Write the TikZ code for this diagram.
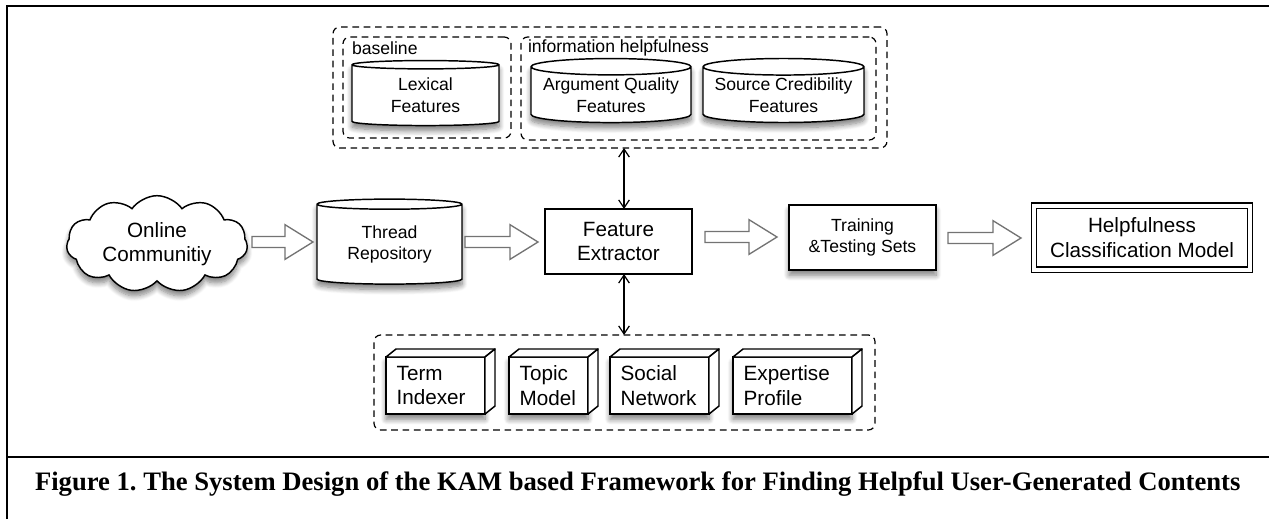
\documentclass[tikz,border=0pt]{standalone}
\usepackage{fontspec}
\setmainfont{Liberation Sans}
\newfontfamily\capfont{Liberation Serif}
\usetikzlibrary{shapes.geometric,shapes.symbols,arrows.meta,calc,shadows.blur}
\newcommand\harrow[5]{%
  \draw[harr] let \p1=(#1.east), \p2=(#2.west), \p3=(0,#3) in
   (\x1+#4*0.75pt, \y3+4.1pt) -- (\x2-#5*0.75pt-21pt, \y3+4.1pt) -- (\x2-#5*0.75pt-21pt, \y3+13pt)
   -- (\x2-#5*0.75pt, \y3) -- (\x2-#5*0.75pt-21pt, \y3-13pt) -- (\x2-#5*0.75pt-21pt, \y3-4.1pt)
   -- (\x1+#4*0.75pt, \y3-4.1pt) -- cycle;}
\begin{document}
\begin{tikzpicture}[x=0.75pt,y=-0.75pt,
  every node/.style={inner sep=0pt, outer sep=0pt},
  big/.style={font=\fontsize{15.5}{18.5}\selectfont},
  small/.style={font=\fontsize{13.2}{16.2}\selectfont},
  sh/.style={blur shadow={shadow xshift=0pt, shadow yshift=-4pt, shadow blur radius=4pt, shadow blur steps=8, shadow opacity=50}},
  box/.style={draw, line width=1.1pt, fill=white, align=center},
  dbox/.style={draw, dash pattern=on 5pt off 3.5pt, line width=0.9pt, rounded corners=5pt},
  cyl/.style={cylinder, shape border rotate=90, draw, line width=1.1pt, fill=white, aspect=0.12, align=center, sh},
  cube/.style={draw, line width=1.1pt, fill=white, align=left, inner xsep=8pt, minimum height=42.75pt, sh},
  face/.style={draw, line width=1.1pt, fill=white, line join=round},
  harr/.style={draw=black!55, line width=1pt, fill=white, line join=miter},
  link/.style={line width=0.9pt, {Straight Barb[length=6pt,width=8pt]}-{Straight Barb[length=6pt,width=8pt]}},
]
\useasboundingbox (0,0) rectangle (1269,519);
% frame
\draw[line width=1.9pt] (7,519) -- (7,6) -- (1269,6);
\draw[line width=1.9pt] (7,457) -- (1269,457);

% top group
\node[dbox, minimum width=415.5pt, minimum height=90.75pt] (topbox) at (610,87.5) {};
\node[dbox, minimum width=126pt, minimum height=75.75pt] (basebox) at (427,87.5) {};
\node[dbox, minimum width=266.25pt, minimum height=77.25pt] (infobox) at (698.5,88.5) {};
\node[small, anchor=west] (baselbl) at (352,48) {baseline};
\node[small, anchor=west] (infolbl) at (528,48) {information helpfulness};
\node[cyl, small, minimum width=110.25pt, minimum height=48.75pt] (lex) at (425.5,95.5) {Lexical\\Features};
\node[cyl, small, minimum width=120pt, minimum height=48pt] (arg) at (611,95) {Argument Quality\\Features};
\node[cyl, small, minimum width=120.75pt, minimum height=48pt] (src) at (783.5,95) {Source Credibility\\Features};

% middle row
\node[cloud, cloud puffs=11, cloud puff arc=110, aspect=2, draw, line width=1.1pt, fill=white, big, align=center,
      minimum width=135.75pt, minimum height=69pt, sh] (cloud) at (157,244) {Online\\Communitiy};
\node[cyl, small, minimum width=108.75pt, minimum height=63.75pt] (thread) at (389.5,244.5) {Thread\\Repository};
\node[box, big, minimum width=110.25pt, minimum height=48.75pt] (feature) at (618.5,241.5) {Feature\\Extractor};
\node[box, small, minimum width=110.25pt, minimum height=48.75pt, sh] (training) at (862.5,237.5) {Training\\\&Testing Sets};
\node[box, big, double, double distance=3pt, minimum width=162pt, minimum height=48pt] (helpful) at (1142,237.5) {Helpfulness\\Classification Model};

\harrow{cloud}{thread}{242}{5}{4}
\harrow{thread}{feature}{242}{3}{7}
\harrow{feature}{training}{237}{13}{12}
\harrow{training}{helpful}{238}{12}{13}

% bottom group
\node[dbox, minimum width=375.75pt, minimum height=71.25pt] (botbox) at (624.5,382.5) {};
\node[cube, big, text width=58.25pt, minimum width=74.25pt] (term) at (435.5,385.5) {Term\\Indexer};
\node[cube, big, text width=43.25pt, minimum width=59.25pt] (topic) at (548.5,385.5) {Topic\\Model};
\node[cube, big, text width=58.25pt, minimum width=74.25pt] (social) at (659.5,385.5) {Social\\Network};
\node[cube, big, text width=73.25pt, minimum width=89.25pt] (expert) at (792.5,385.5) {Expertise\\Profile};
\foreach \n in {term,topic,social,expert}{
  \draw[face] (\n.north west) -- ++(10,-8) -- ($(\n.north east)+(10,-8)$) -- (\n.north east) -- cycle;
  \draw[face] (\n.north east) -- ++(10,-8) -- ($(\n.south east)+(10,-8)$) -- (\n.south east) -- cycle;
}

% vertical links
\coordinate (ax) at (624,0);
\draw[link] (topbox.south -| ax) -- (feature.north -| ax);
\draw[link] (feature.south -| ax) -- (botbox.north -| ax);

% caption
\node[anchor=base west] (cap) at (35,490) {\resizebox{904pt}{!}{\capfont\bfseries\fontsize{19}{22}\selectfont Figure 1.\ The System Design of the KAM based Framework for Finding Helpful User-Generated Contents}};
\end{tikzpicture}
\end{document}
